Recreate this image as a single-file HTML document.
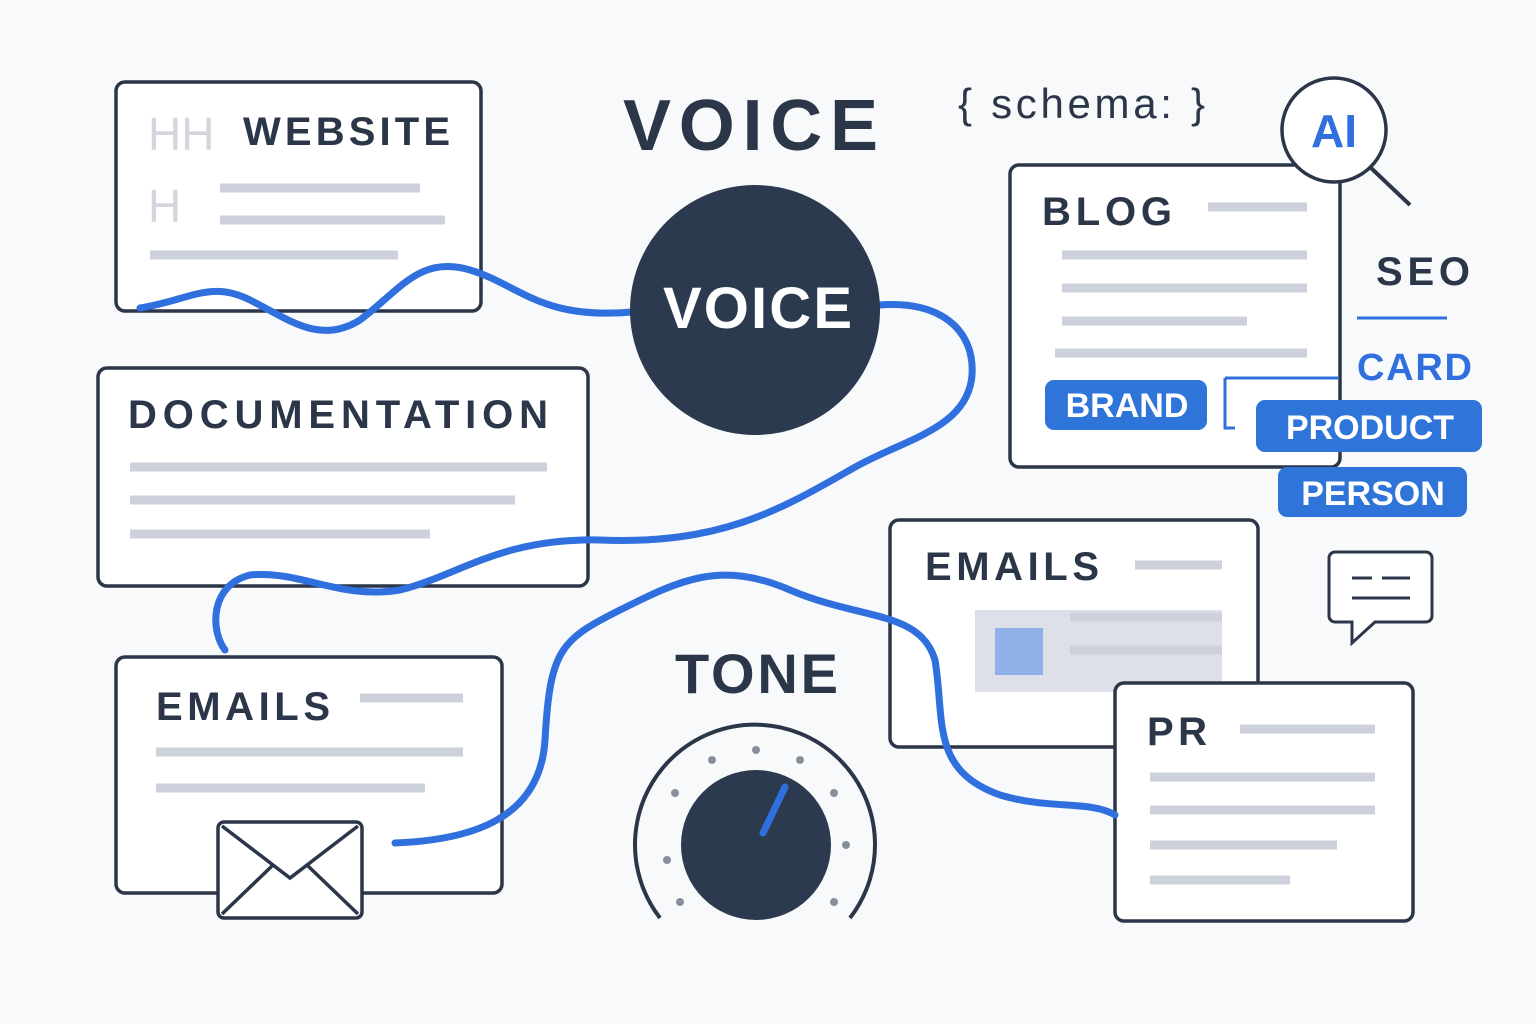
<!DOCTYPE html>
<html><head><meta charset="utf-8"><style>
html,body{margin:0;padding:0;background:#f8f9fb;}
svg{display:block;font-family:"Liberation Sans",sans-serif;}
</style></head><body>
<svg width="1536" height="1024" viewBox="0 0 1536 1024" xmlns="http://www.w3.org/2000/svg">
<rect width="1536" height="1024" fill="#f8f9fb"/>
<g fill="#fff" stroke="#2b3648" stroke-width="3.5">
<rect x="116" y="82" width="365" height="229" rx="9"/>
<rect x="1010" y="165" width="330" height="302" rx="9"/>
<rect x="98" y="368" width="490" height="218" rx="9"/>
<rect x="116" y="657" width="386" height="236" rx="9"/>
<rect x="890" y="520" width="368" height="227" rx="9"/>
</g>
<g stroke="#cdd1db" stroke-width="9" stroke-linecap="butt">
<line x1="220" y1="188" x2="420" y2="188"/><line x1="220" y1="220" x2="445" y2="220"/><line x1="150" y1="255" x2="398" y2="255"/>
<line x1="1208" y1="207" x2="1307" y2="207"/><line x1="1062" y1="255" x2="1307" y2="255"/><line x1="1062" y1="288" x2="1307" y2="288"/><line x1="1062" y1="321" x2="1247" y2="321"/><line x1="1055" y1="353" x2="1307" y2="353"/>
<line x1="130" y1="467" x2="547" y2="467"/><line x1="130" y1="500" x2="515" y2="500"/><line x1="130" y1="534" x2="430" y2="534"/>
<line x1="360" y1="698" x2="463" y2="698"/><line x1="156" y1="752" x2="463" y2="752"/><line x1="156" y1="788" x2="425" y2="788"/>
<line x1="1135" y1="565" x2="1222" y2="565"/>
</g>
<rect x="975" y="610" width="247" height="82" fill="#dde0e8"/>
<rect x="995" y="628" width="48" height="47" fill="#8fb0e8"/>
<line x1="1070" y1="617" x2="1222" y2="617" stroke="#cdd1db" stroke-width="9"/>
<line x1="1070" y1="650" x2="1222" y2="650" stroke="#cdd1db" stroke-width="9"/>
<rect x="1115" y="683" width="298" height="238" rx="9" fill="#fff" stroke="#2b3648" stroke-width="3.5"/>
<g stroke="#cdd1db" stroke-width="9"><line x1="1240" y1="729" x2="1375" y2="729"/><line x1="1150" y1="777" x2="1375" y2="777"/><line x1="1150" y1="810" x2="1375" y2="810"/><line x1="1150" y1="845" x2="1337" y2="845"/><line x1="1150" y1="880" x2="1290" y2="880"/></g>
<text x="148" y="150" font-size="46" fill="#d3d6de">HH</text>
<text x="148" y="222" font-size="46" fill="#d3d6de">H</text>
<g font-weight="bold" fill="#2b3648" font-size="40" lengthAdjust="spacing">
<text x="243" y="145" textLength="207" lengthAdjust="spacing">WEBSITE</text>
<text x="1042" y="225" textLength="130" lengthAdjust="spacing">BLOG</text>
<text x="128" y="428" textLength="420" lengthAdjust="spacing">DOCUMENTATION</text>
<text x="156" y="720" textLength="174" lengthAdjust="spacing">EMAILS</text>
<text x="925" y="580" textLength="174" lengthAdjust="spacing">EMAILS</text>
<text x="1147" y="745" textLength="60" lengthAdjust="spacing">PR</text>
<text x="1376" y="285" textLength="94" lengthAdjust="spacing">SEO</text>
<text x="623" y="150" font-size="72" textLength="255" lengthAdjust="spacing">VOICE</text>
<text x="675" y="693" font-size="56" textLength="163" lengthAdjust="spacing">TONE</text>
</g>
<text x="958" y="118" font-size="42" fill="#2b3648" textLength="247" lengthAdjust="spacing">{ schema: }</text>
<line x1="1357" y1="318" x2="1447" y2="318" stroke="#2f6fde" stroke-width="3"/>
<text x="1357" y="380" font-size="38" font-weight="bold" fill="#2f6fde" textLength="115" lengthAdjust="spacing">CARD</text>
<path d="M1225 378 H1338 M1225 378 V428 H1235" fill="none" stroke="#2f6fde" stroke-width="3"/>
<circle cx="1334" cy="130" r="52" fill="#fff" stroke="#2b3648" stroke-width="3.5"/>
<line x1="1370" y1="167" x2="1410" y2="205" stroke="#2b3648" stroke-width="4"/>
<text x="1334" y="147" font-size="46" font-weight="bold" fill="#2f6fde" text-anchor="middle">AI</text>
<g fill="#2f74d8">
<rect x="1045" y="380" width="162" height="50" rx="9"/>
<rect x="1256" y="400" width="226" height="52" rx="9"/>
<rect x="1278" y="467" width="189" height="50" rx="9"/>
</g>
<g fill="#fff" font-size="34" font-weight="bold" text-anchor="middle">
<text x="1127" y="417">BRAND</text>
<text x="1370" y="439">PRODUCT</text>
<text x="1373" y="505">PERSON</text>
</g>
<path d="M1335 552 H1426 a6 6 0 0 1 6 6 V616 a6 6 0 0 1 -6 6 H1375 L1352 643 V622 H1335 a6 6 0 0 1 -6 -6 V558 a6 6 0 0 1 6 -6Z" fill="#fff" stroke="#2b3648" stroke-width="3"/>
<g stroke="#2b3648" stroke-width="3"><line x1="1352" y1="578" x2="1372" y2="578"/><line x1="1382" y1="578" x2="1410" y2="578"/><line x1="1352" y1="598" x2="1410" y2="598"/></g>
<g fill="none" stroke="#2f6fde" stroke-width="7" stroke-linecap="round">
<path d="M140 308 C190 300 210 280 250 300 C290 320 320 345 360 320 C400 290 420 255 470 270 C520 285 540 320 632 312"/>
<path d="M880 305 C940 300 975 330 972 375 C968 430 900 440 850 470 C780 510 720 545 600 540 C500 538 460 575 400 590 C340 600 300 570 250 575 C210 585 210 630 225 650"/>
<path d="M395 843 C470 840 540 820 545 740 C550 650 560 640 620 610 C680 580 720 560 790 590 C860 620 920 610 935 660 C945 720 930 770 1000 795 C1050 810 1090 800 1115 815"/>
</g>
<circle cx="755" cy="310" r="125" fill="#2c3a4f"/>
<text x="663" y="328" font-size="58" font-weight="bold" fill="#fff" textLength="189" lengthAdjust="spacing">VOICE</text>
<rect x="218" y="822" width="144" height="96" rx="6" fill="#fff" stroke="#2b3648" stroke-width="3.5"/>
<path d="M222 826 L290 878 L358 826 M222 914 L272 866 M358 914 L308 866" fill="none" stroke="#2b3648" stroke-width="3.5"/>
<path d="M660 918 A120 120 0 1 1 850 918" fill="none" stroke="#2b3648" stroke-width="4"/>
<g fill="#888f9c">
<circle cx="680" cy="902" r="4"/><circle cx="667" cy="860" r="4"/><circle cx="675" cy="793" r="4"/><circle cx="712" cy="760" r="4"/><circle cx="756" cy="750" r="4"/><circle cx="800" cy="760" r="4"/><circle cx="834" cy="793" r="4"/><circle cx="846" cy="845" r="4"/><circle cx="834" cy="902" r="4"/>
</g>
<circle cx="756" cy="845" r="75" fill="#2c3a4f"/>
<line x1="763" y1="833" x2="785" y2="787" stroke="#2f6fde" stroke-width="7" stroke-linecap="round"/>
</svg>
</body></html>
